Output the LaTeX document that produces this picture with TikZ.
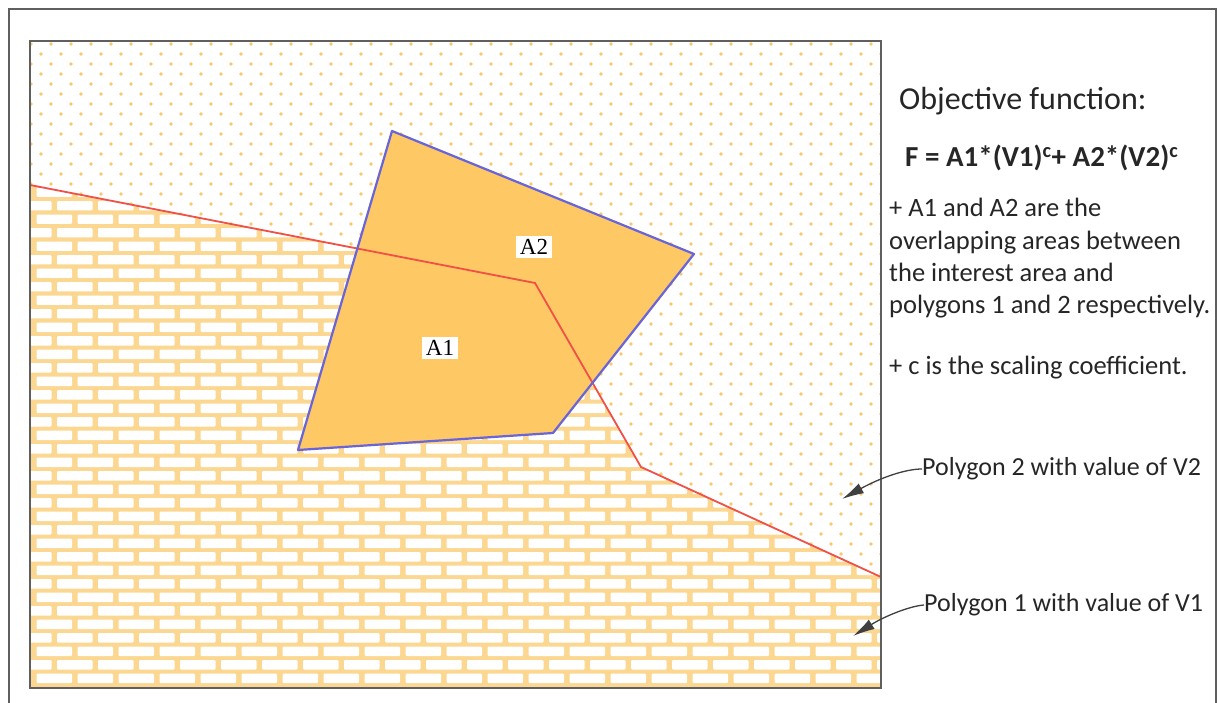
\documentclass[tikz,border=0pt]{standalone}
\usepackage{fontspec}
\setmainfont{Carlito}
\newfontfamily\serifA{Liberation Serif}
\usetikzlibrary{arrows.meta}
\definecolor{frameC}{RGB}{95,95,95}
\definecolor{dotC}{RGB}{248,200,110}
\definecolor{mortarC}{RGB}{251,215,145}
\definecolor{quadC}{RGB}{254,200,101}
\definecolor{quadB}{RGB}{105,100,215}
\definecolor{redC}{RGB}{240,80,70}
\tikzset{
  frameline/.style={draw=frameC, line width=2},
  arealabel/.style={fill=white, inner sep=3.5pt, font=\serifA\fontsize{23}{26}\selectfont},
  sidetext/.style={anchor=west, align=left, inner sep=0pt, text=black!85},
  pointer/.style={draw=black!75, line width=1.3, -{Latex[length=22pt,width=11pt]}},
}
\begin{document}
\begin{tikzpicture}[x=1pt,y=-1pt]
\useasboundingbox (0,0) rectangle (1218,703);
\fill[white] (0,0) rectangle (1218,703);
\begin{scope}
\clip (0,0) rectangle (1218,703);
\draw[frameline] (9,720) -- (9,9) -- (1216,9) -- (1216,720);
\end{scope}
% boundary points
\coordinate (b0) at (30,185);
\coordinate (b1) at (535,283);
\coordinate (b2) at (641,467);
\coordinate (b3) at (881,577);
% polygon 2: dotted
\begin{scope}
\clip (30,41) -- (881,41) -- (b3) -- (b2) -- (b1) -- (b0) -- cycle;
\foreach \j in {0,...,54} {
  \pgfmathsetmacro{\yy}{44+\j*10}
  \pgfmathsetmacro{\xo}{mod(\j,2)*10}
  \foreach \i in {0,...,43} {
    \fill[dotC] ({31+\xo+\i*20},\yy) circle (1.8);
  }
}
\end{scope}
% polygon 1: bricks
\begin{scope}
\clip (b0) -- (b1) -- (b2) -- (b3) -- (881,688) -- (30,688) -- cycle;
\fill[mortarC] (30,180) rectangle (881,690);
\foreach \j in {0,...,38} {
  \pgfmathsetmacro{\yy}{172+\j*13.5}
  \pgfmathsetmacro{\xo}{mod(\j,2)*20.5}
  \foreach \i in {0,...,22} {
    \fill[white, rounded corners=1pt] ({16+\xo+\i*41},{\yy+2.2}) rectangle ({51.5+\xo+\i*41},{\yy+11.5});
  }
}
\end{scope}
% interest area
\coordinate (q1) at (392,131);
\coordinate (q2) at (694,254);
\coordinate (q3) at (553,433);
\coordinate (q4) at (298,450);
\fill[quadC] (q1) -- (q2) -- (q3) -- (q4) -- cycle;
% red boundary line
\draw[redC, line width=1.8] (b0) -- (b1) -- (b2) -- (b3);
\draw[quadB, line width=2.2, line join=round] (q1) -- (q2) -- (q3) -- (q4) -- cycle;
% inner frame
\draw[frameline] (30,41) rectangle (881,688);
% area labels
\node[arealabel] (A2) at (534,247) {A2};
\node[arealabel] (A1) at (440,348) {A1};
% right-side texts
\node[sidetext, font=\fontsize{32}{36}\selectfont] (obj) at (899,101) {Objective function:};
\node[sidetext, font=\bfseries\fontsize{29}{32}\selectfont] (formula) at (905,158) {F = A1*(V1)\textsuperscript{c}+ A2*(V2)\textsuperscript{c}};
\node[sidetext, anchor=north west, font=\fontsize{26.5}{32.4}\selectfont] (desc) at (889,198) {+ A1 and A2 are the\\overlapping areas between\\the interest area and\\polygons 1 and 2 respectively.};
\node[sidetext, font=\fontsize{26.5}{30}\selectfont] (coef) at (889,368) {+ c is the scaling coefficient.};
\node[sidetext, font=\fontsize{26}{30}\selectfont] (p2) at (922,469) {Polygon 2 with value of V2};
\node[sidetext, font=\fontsize{26}{30}\selectfont] (p1) at (924,605) {Polygon 1 with value of V1};
% pointers
\coordinate (t2) at (842,499);
\coordinate (t1) at (853,636);
\draw[pointer] (p2.west) .. controls (905,469) and (880,478) .. (t2);
\draw[pointer] (p1.west) .. controls (910,606) and (885,616) .. (t1);
\end{tikzpicture}
\end{document}
